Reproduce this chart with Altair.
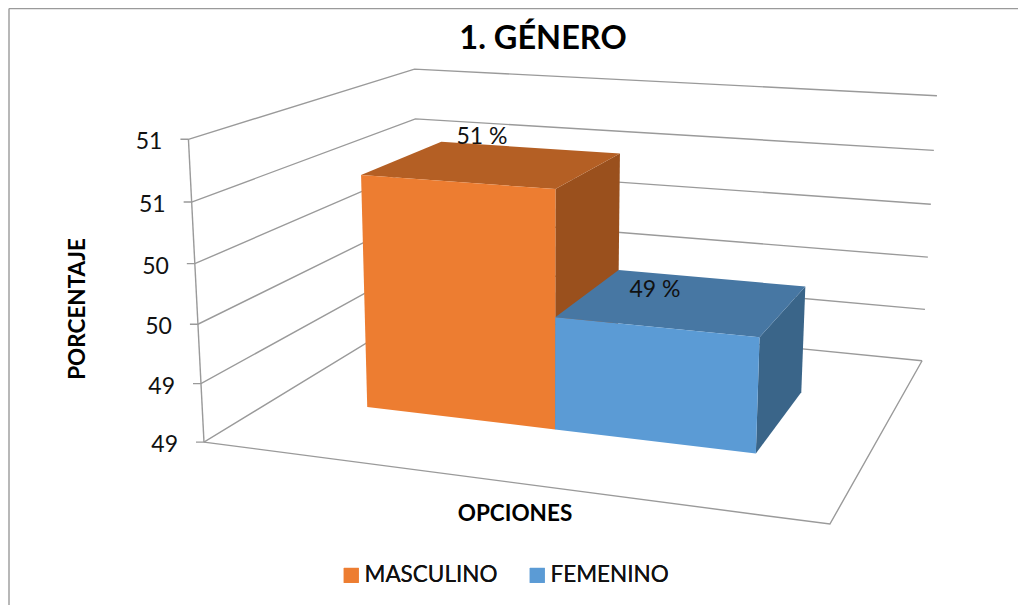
import altair as alt
import numpy as np
import pandas as pd

series = ["MASCULINO", "FEMENINO"]
values = [50.54, 49.47]
value_labels = ["51 %", "49 %"]
colors_front = ["#ED7D31", "#5B9BD5"]
colors_top = ["#B45F24", "#4777A3"]
colors_side = ["#9A501D", "#3A6589"]
tick_values = [48.5, 49.0, 49.5, 50.0, 50.5, 51.0]
tick_labels = ["49", "49", "50", "50", "51", "51"]
bar_x = [(0.1665, 0.5015), (0.5015, 0.8335)]
bar_z = (0.297, 0.69)
FONT = "Lato"
GRID = "#9A9A9A"

# camera of the 3-D scene: (x, value, depth) -> page pixels
anchors = [
    ((0, 48.5, 0), (204, 442)), ((0, 51, 0), (188, 139.5)), ((0, 50.5, 0), (192, 202)),
    ((0, 51, 1), (415, 69)), ((0, 50.5, 1), (415, 119)), ((1, 51, 1), (937, 96)),
    ((1, 50.5, 1), (933.7, 150)), ((1, 49.5, 1), (928, 257)), ((1, 48.5, 1), (922, 361)),
    ((1, 48.5, 0), (830, 524)),
]
rows = []
for (X, Y, Z), (u, v) in anchors:
    Y = (Y - 48.5) / 2.5
    rows.append([X, Y, Z, 1, 0, 0, 0, 0, -u * X, -u * Y, -u * Z, -u])
    rows.append([0, 0, 0, 0, X, Y, Z, 1, -v * X, -v * Y, -v * Z, -v])
P = np.linalg.svd(np.array(rows, float))[2][-1].reshape(3, 4)


def proj(x, val, z):
    h = P @ np.array([x, (val - 48.5) / 2.5, z, 1.0])
    return float(h[0] / h[2]), float(h[1] / h[2])


W, H = 1010, 597
X = alt.X("px:Q", scale=alt.Scale(domain=[8, 8 + W], range=[0, W]), axis=None)
Y = alt.Y("py:Q", scale=alt.Scale(domain=[8, 8 + H], range=[0, H]), axis=None)


def poly_rows(pid, pts, **kw):
    return [dict(pid=pid, i=i, px=p[0], py=p[1], **kw) for i, p in enumerate(pts + pts[:1])]


# grid, walls, floor
lines = []
for k, t in enumerate(tick_values):
    a = proj(0, t, 0)
    lines += [dict(pid=f"g{k}", i=i, px=p[0], py=p[1]) for i, p in enumerate(
        [(a[0] - 8, a[1]), a, proj(0, t, 1), proj(1, t, 1)])]
lines += [dict(pid="axis", i=i, px=p[0], py=p[1]) for i, p in enumerate(
    [proj(0, tick_values[-1], 0), proj(0, tick_values[0], 0)])]
lines += [dict(pid="floor", i=i, px=p[0], py=p[1]) for i, p in enumerate(
    [proj(0, tick_values[0], 0), proj(1, tick_values[0], 0), proj(1, tick_values[0], 1)])]
lines += [dict(pid="frameL", i=0, px=9, py=8.5), dict(pid="frameL", i=1, px=9, py=605)]
lines += [dict(pid="frameT", i=0, px=9, py=8.5), dict(pid="frameT", i=1, px=1018, py=8.5)]
grid = alt.Chart(pd.DataFrame(lines)).mark_line(color=GRID, strokeWidth=1.4, clip=False).encode(
    x=X, y=Y, detail="pid:N", order="i:Q")

base = 48.5
front, shade = [], []
for s, (x0, x1), v, ct, cs in zip(series, bar_x, values, colors_top, colors_side):
    z0, z1 = bar_z
    front += poly_rows(s + "f", [proj(x0, base, z0), proj(x1, base, z0), proj(x1, v, z0), proj(x0, v, z0)], serie=s)
    shade += poly_rows(s + "s", [proj(x1, base, z0), proj(x1, base, z1), proj(x1, v, z1), proj(x1, v, z0)], c=cs)
    shade += poly_rows(s + "t", [proj(x0, v, z0), proj(x1, v, z0), proj(x1, v, z1), proj(x0, v, z1)], c=ct)

dfS = pd.DataFrame(shade)
dfF = pd.DataFrame(front)
layers = [grid]
legend = alt.Legend(orient="none", legendX=332, legendY=556, direction="horizontal", title=None,
                    symbolType="square", symbolSize=225, symbolStrokeWidth=0, labelFont=FONT,
                    labelFontSize=22.5, labelColor="#111111", columnPadding=28, labelOffset=2,
                    labelLimit=200, columns=2)
for idx, s in enumerate(series):
    layers.append(alt.Chart(dfS[dfS.pid.str.startswith(s)]).mark_line(strokeWidth=0).encode(
        x=X, y=Y, detail="pid:N", order="i:Q",
        fill=alt.Fill("c:N", scale=None)))
    layers.append(alt.Chart(dfF[dfF.serie == s]).mark_line(strokeWidth=0).encode(
        x=X, y=Y, detail="pid:N", order="i:Q",
        fill=alt.Fill("serie:N", sort=series,
                      scale=alt.Scale(domain=series, range=colors_front), legend=legend)))

# tick labels, value labels, titles
tk = [dict(px=proj(0, t, 0)[0] - 26, py=proj(0, t, 0)[1] + 3, t=l) for t, l in zip(tick_values, tick_labels)]
layers.append(alt.Chart(pd.DataFrame(tk)).mark_text(align="right", baseline="middle", font=FONT, fontSize=23, color="#111111").encode(
    x=X, y=Y, text="t:N"))

vl = [dict(px=482, py=137, t=value_labels[0]), dict(px=655, py=290, t=value_labels[1])]
layers.append(alt.Chart(pd.DataFrame(vl)).mark_text(align="center", baseline="middle", font=FONT, fontSize=23, color="#111111").encode(
    x=X, y=Y, text="t:N"))

layers.append(alt.Chart(pd.DataFrame([dict(px=543, py=39, t="1. GÉNERO")])).mark_text(
    align="center", baseline="middle", font=FONT, fontSize=32.5, fontWeight="bold", color="#000000").encode(x=X, y=Y, text="t:N"))
layers.append(alt.Chart(pd.DataFrame([dict(px=515, py=514, t="OPCIONES")])).mark_text(
    align="center", baseline="middle", font=FONT, fontSize=22.5, fontWeight="bold", color="#000000").encode(x=X, y=Y, text="t:N"))
layers.append(alt.Chart(pd.DataFrame([dict(px=78, py=309, t="PORCENTAJE")])).mark_text(
    align="center", baseline="middle", font=FONT, fontSize=22.5, fontWeight="bold", angle=270, color="#000000").encode(x=X, y=Y, text="t:N"))

chart = alt.layer(*layers).resolve_scale(fill="independent").properties(
    width=W, height=H, padding=0, autosize=alt.AutoSizeParams(type="none")
).configure_view(stroke=None)
chart.save("out.html", embed_options={"renderer": "svg", "actions": False})
